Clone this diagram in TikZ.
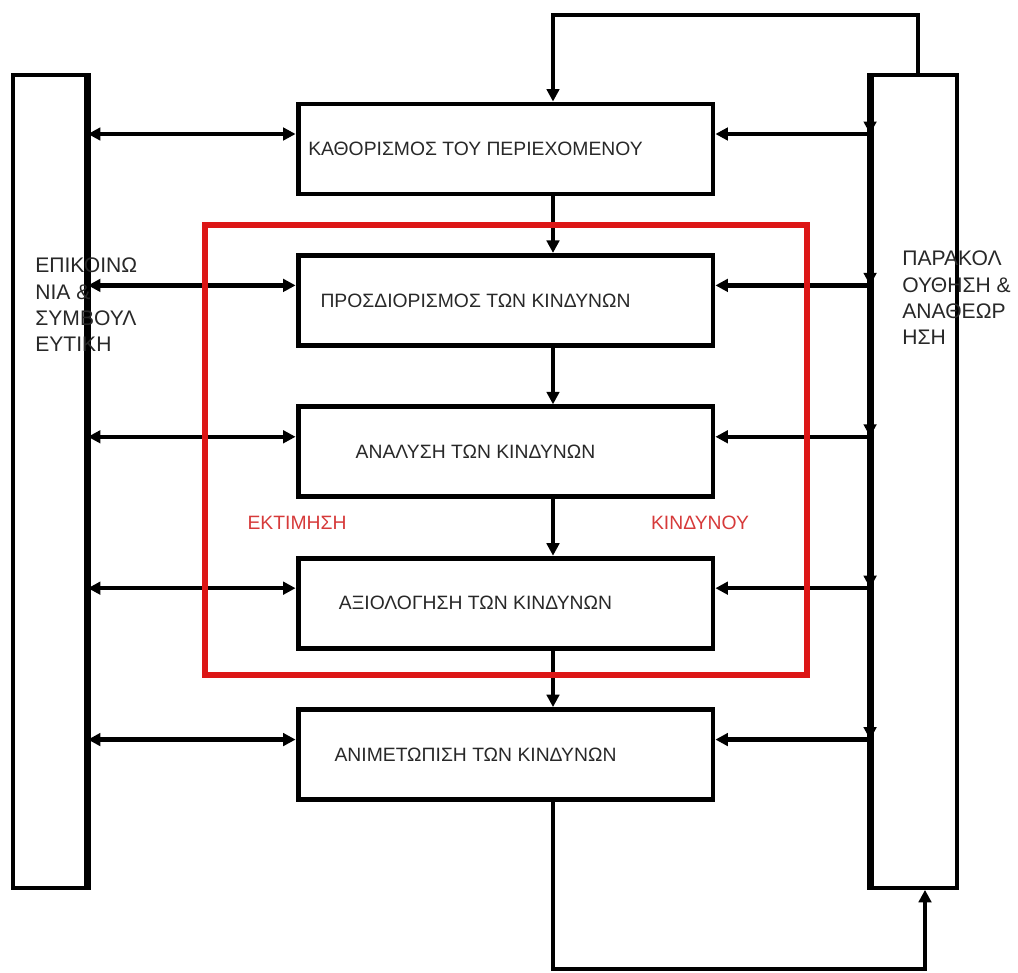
\documentclass[tikz,border=0pt]{standalone}
\usepackage{fontspec}
\setmainfont{Liberation Sans}
\usepackage{xcolor}
\usepackage{tikz}
\usetikzlibrary{positioning,arrows.meta}
\definecolor{framered}{RGB}{220,22,22}
\definecolor{labelred}{RGB}{214,58,58}
\definecolor{textgray}{RGB}{40,40,40}
\tikzset{
  stage-node/.style={draw=black, line width=2.8pt, minimum width=8.3cm, minimum height=1.8cm,
    inner sep=1pt, font=\fontsize{11}{13}\selectfont, text=textgray,
    execute at end node={\hspace*{1.2cm}}},
  side-node/.style={draw=black, line width=2.2pt, minimum height=16.26cm, inner sep=0pt},
  side-label/.style={font=\fontsize{12}{15}\selectfont, align=left, text=textgray,
    anchor=west, inner sep=0pt},
  frame-node/.style={draw=framered, line width=3.8pt, minimum width=12.04cm, minimum height=9cm},
  frame-label/.style={font=\fontsize{11}{13}\selectfont, text=labelred, inner sep=0pt},
  flow-arrow/.style={-{Triangle[length=2.5mm,width=2.5mm]}, line width=2.4pt},
  twoway-arrow/.style={{Triangle[length=2.5mm,width=2.5mm]}-{Triangle[length=2.5mm,width=2.5mm]},
    line width=2.4pt},
  edge-line/.style={line width=3.6pt}
}

\begin{document}
\begin{tikzpicture}[x=0.02cm, y=-0.02cm, node distance=1.13cm]
\useasboundingbox (0,0) rectangle (1018,973);

% Process stages
\node[stage-node] (ctx) at (505.5,149) {ΚΑΘΟΡΙΣΜΟΣ ΤΟΥ ΠΕΡΙΕΧΟΜΕΝΟΥ};
\node[stage-node, below=of ctx] (ident) {ΠΡΟΣΔΙΟΡΙΣΜΟΣ ΤΩΝ ΚΙΝΔΥΝΩΝ};
\node[stage-node, below=of ident] (anal) {ΑΝΑΛΥΣΗ ΤΩΝ ΚΙΝΔΥΝΩΝ};
\node[stage-node, below=of anal] (eval) {ΑΞΙΟΛΟΓΗΣΗ ΤΩΝ ΚΙΝΔΥΝΩΝ};
\node[stage-node, below=of eval] (treat) {ΑΝΙΜΕΤΩΠΙΣΗ ΤΩΝ ΚΙΝΔΥΝΩΝ};

% Side columns
\node[side-node, minimum width=1.46cm] (comm) at (49.5,481.5) {};
\node[side-node, minimum width=1.7cm] (monitor) at (914.5,481.5) {};
\draw[edge-line] (comm.north east) -- (comm.south east);
\draw[edge-line] (monitor.north west) -- (monitor.south west);
\node[side-label] (comm-text) at (35,305) {ΕΠΙΚΟΙΝΩ\\ΝΙΑ \&\\ΣΥΜΒΟΥΛ\\ΕΥΤΙΚΗ};
\node[side-label] (monitor-text) at (902,298) {ΠΑΡΑΚΟΛ\\ΟΥΘΗΣΗ \&\\ΑΝΑΘΕΩΡ\\ΗΣΗ};

% Links to both columns
\foreach \b in {ctx,ident,anal,eval,treat}
{
  \coordinate (\b-l) at ([yshift=0.3cm]\b.west);
  \coordinate (\b-r) at ([yshift=0.3cm]\b.east);
  \coordinate (\b-j) at (\b-r -| monitor.west);
  \draw[twoway-arrow] (\b-l -| comm.east) -- (\b-l);
  \draw[flow-arrow] (\b-j) -- (\b-r);
  \draw[flow-arrow] ([yshift=0.42cm]\b-j) -- (\b-j);
}

% Main flow
\coordinate (spine) at (553,0);
\foreach \u/\l in {ctx/ident, ident/anal, anal/eval, eval/treat}
  \draw[flow-arrow] (\u.south -| spine) -- (\l.north -| spine);

% Feedback loops
\coordinate (toploop) at (918,15);
\coordinate (botloop) at (925,969);
\draw[flow-arrow] (monitor.north -| toploop) -- (toploop) -| (ctx.north -| spine);
\draw[flow-arrow] (treat.south -| spine) |- (botloop) -- (monitor.south -| botloop);

% Risk assessment frame
\node[frame-node] (assess) at (506,450) {};
\node[frame-label] (assess-left) at (297,523) {ΕΚΤΙΜΗΣΗ};
\node[frame-label] (assess-right) at (700,523) {ΚΙΝΔΥΝΟΥ};
\end{tikzpicture}
\end{document}
